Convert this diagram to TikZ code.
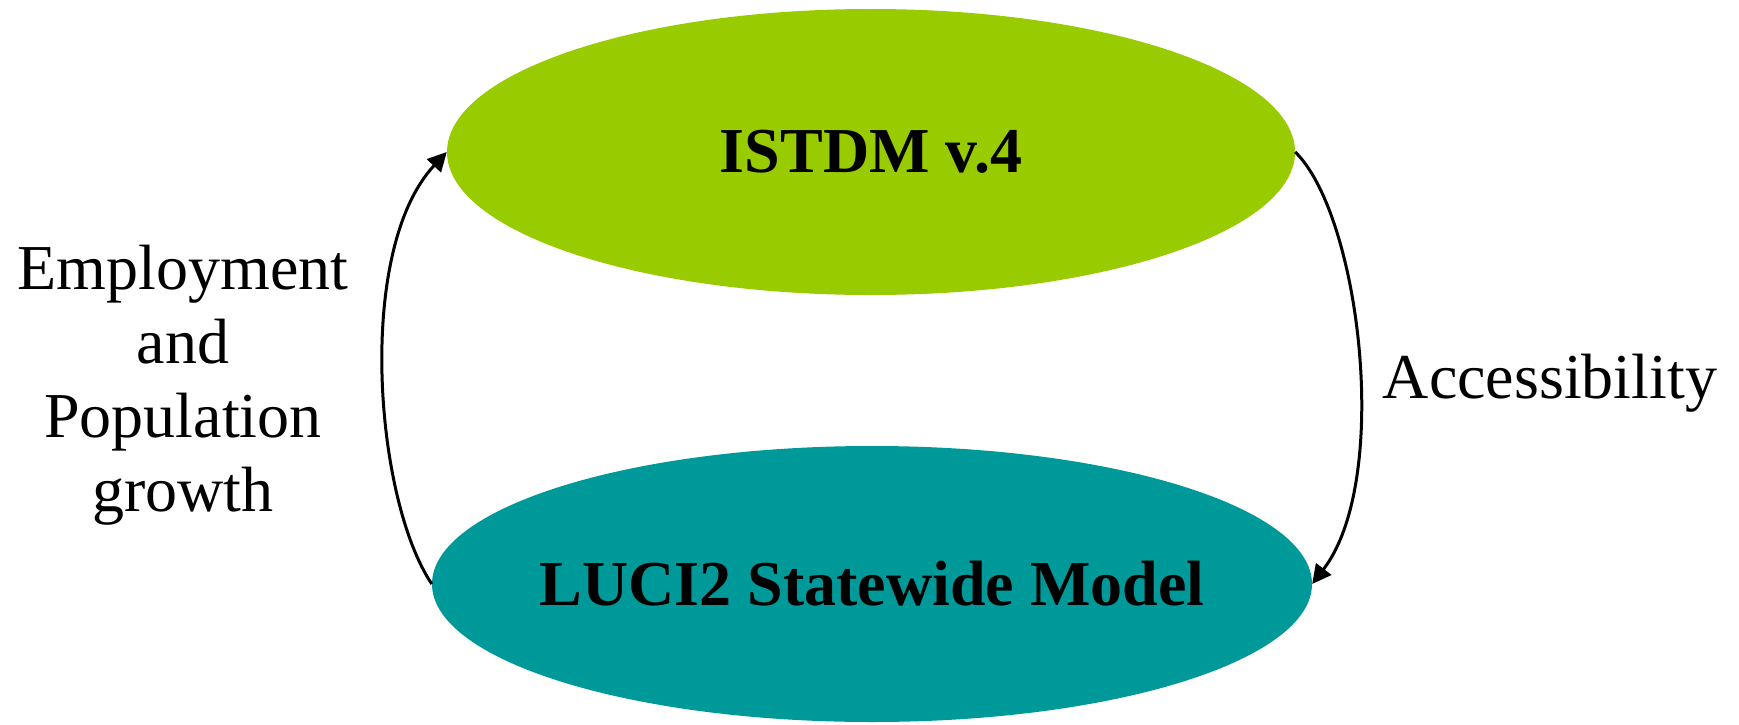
\documentclass[tikz,border=0pt]{standalone}
\usepackage{fontspec}
\setmainfont{Liberation Serif}
\usetikzlibrary{arrows.meta,shapes.geometric}
\definecolor{topgreen}{HTML}{99CC00}
\definecolor{botteal}{HTML}{009999}
\tikzset{
  modelnode/.style={ellipse, inner sep=0pt},
  modeltext/.style={font=\fontsize{64}{74}\selectfont\bfseries},
  lbl/.style={font=\fontsize{64}{74}\selectfont, align=center},
  conn/.style={line width=3pt, -{Triangle[length=19pt,width=19pt]}}
}
\begin{document}
\begin{tikzpicture}[x=1pt,y=-1pt]
\useasboundingbox (0,0) rectangle (1739,725);
\node[modelnode, fill=topgreen, minimum width=848pt, minimum height=286pt] (top) at (871,152) {};
\node[modeltext] (toptext) at (top.center) {ISTDM v.4};
\node[modelnode, fill=botteal, minimum width=880pt, minimum height=276pt] (bot) at (872,584) {};
\node[modeltext] (bottext) at (bot.center) {LUCI2 Statewide Model};
\node[lbl] (emp) at (183,385) {Employment\\and\\Population\\growth};
\node[lbl] (acc) at (1550,383) {Accessibility};
\draw[conn] (bot.west) .. controls (375,500) and (355,250) .. (top.west);
\draw[conn] (top.east) .. controls (1360,215) and (1392,480) .. (bot.east);
\end{tikzpicture}
\end{document}
